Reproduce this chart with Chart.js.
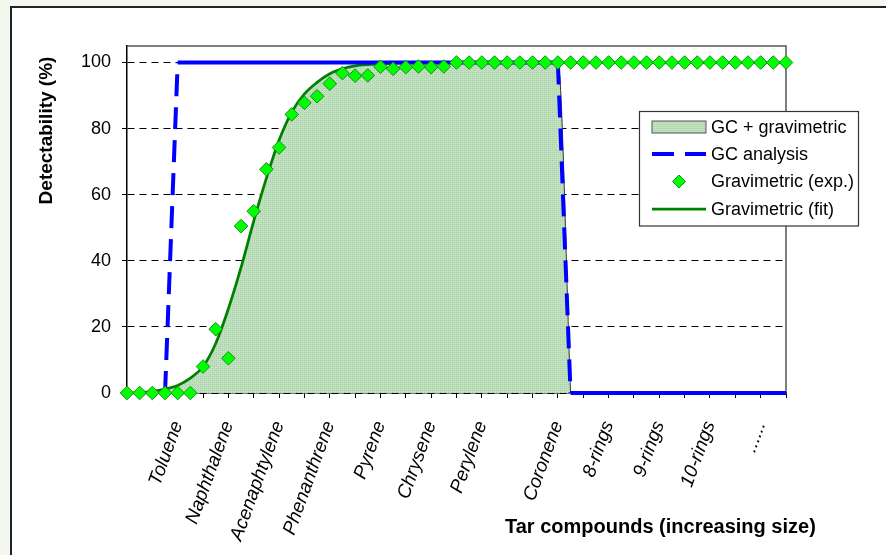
<!DOCTYPE html>
<html>
<head>
<meta charset="utf-8">
<title>Tar compound detectability</title>
<script src="https://cdn.jsdelivr.net/npm/chart.js@4.4.1/dist/chart.umd.min.js"></script>
<style>
  html, body { margin: 0; padding: 0; background: #f3f8ef; }
  canvas { display: block; }
</style>
</head>
<body>
<canvas id="detectChart" width="886" height="555"></canvas>
<script>
// x runs in half steps, 0 .. 26 -> 53 slots; a compound name sits on some of them
const compoundNames = ['Toluene', 'Naphthalene', 'Acenaphtylene', 'Phenanthrene', 'Pyrene', 'Chrysene',
    'Perylene', 'Coronene', '8-rings', '9-rings', '10-rings', '......'];
const compoundSlots = [4, 8, 12, 16, 20, 24, 28, 34, 38, 42, 46, 50];
const slotCount = 53;
const yTickValues = [0, 20, 40, 60, 80, 100];

const gcPlusGrav = [0, 0.1, 0.5, 1.2, 2.3, 4.5, 8, 15, 25.5, 38, 52, 65, 76.5, 85, 90.5, 94, 96.6, 98.1,
    99, 99.4, 99.6, 99.8, 99.9, 100, 100, 100, 100, 100, 100, 100, 100, 100, 100, 100, 100, 0];

const gcAnalysis = [null, null, null, 0,
    100, 100, 100, 100, 100, 100, 100, 100, 100, 100, 100, 100, 100, 100, 100, 100,
    100, 100, 100, 100, 100, 100, 100, 100, 100, 100, 100, 100, 100, 100, 100,
    0, 0, 0, 0, 0, 0, 0, 0, 0, 0, 0, 0, 0, 0, 0, 0, 0, 0];

const gravExp = [0, 0, 0, 0, 0, 0, 8, 19.3, 10.5, 50.5, 55, 67.7, 74.3, 84.3, 87.8, 89.8, 93.6, 96.8,
    96, 96.1, 98.7, 98.1, 98.6, 98.8, 98.6, 98.8,
    100, 100, 100, 100, 100, 100, 100, 100, 100, 100, 100, 100, 100, 100,
    100, 100, 100, 100, 100, 100, 100, 100, 100, 100, 100, 100, 100];

const gravFit = [0, 0.1, 0.5, 1.2, 2.3, 4.5, 8, 15, 25.5, 38, 52, 65, 76.5, 85, 90.5, 94, 96.6, 98.1,
    99, 99.4, 99.6, 99.8, 99.9,
    100, 100, 100, 100, 100, 100, 100, 100, 100, 100, 100, 100, 100, 100, 100,
    100, 100, 100, 100, 100, 100, 100, 100, 100, 100, 100, 100, 100, 100, 100];

const FONT = "'Liberation Sans', Arial, Helvetica, sans-serif";
const colors = {
    blue: '#0000ff',
    lime: '#00ff00',
    limeEdge: '#1a8a1a',
    darkGreen: '#008000',
    frameBg: '#f3f8ef'
};

function makeFillPattern() {
    const tile = document.createElement('canvas');
    tile.width = 4;
    tile.height = 4;
    const t = tile.getContext('2d');
    t.fillStyle = '#c0e0c0';
    t.fillRect(0, 0, 4, 4);
    t.fillStyle = '#a2cea2';
    t.fillRect(0, 0, 1, 1);
    t.fillRect(2, 2, 1, 1);
    t.fillStyle = '#b0d7b0';
    t.fillRect(2, 0, 1, 1);
    t.fillRect(0, 2, 1, 1);
    return t.createPattern(tile, 'repeat');
}

const fillPattern = makeFillPattern();

const slotLabels = new Array(slotCount).fill('');
compoundSlots.forEach((slot, i) => { slotLabels[slot] = compoundNames[i]; });

const frameAndTitles = {
    id: 'frameAndTitles',
    beforeDraw(chart) {
        const ctx = chart.ctx;
        ctx.save();
        ctx.fillStyle = colors.frameBg;
        ctx.fillRect(0, 0, chart.width, chart.height);
        ctx.fillStyle = '#ffffff';
        ctx.fillRect(11, 7, chart.width - 11, chart.height - 7);
        ctx.strokeStyle = '#222';
        ctx.lineWidth = 2;
        ctx.beginPath();
        ctx.moveTo(11, chart.height);
        ctx.lineTo(11, 7);
        ctx.lineTo(chart.width, 7);
        ctx.stroke();
        ctx.restore();
    },
    beforeDatasetsDraw(chart) {
        const {ctx, chartArea} = chart;
        ctx.save();
        ctx.strokeStyle = '#555';
        ctx.lineWidth = 1.5;
        ctx.beginPath();
        ctx.moveTo(chartArea.left, chartArea.top);
        ctx.lineTo(chartArea.right, chartArea.top);
        ctx.lineTo(chartArea.right, chartArea.bottom);
        ctx.stroke();
        ctx.restore();
    },
    afterDraw(chart) {
        const ctx = chart.ctx;
        ctx.save();
        ctx.fillStyle = '#000';
        ctx.font = 'bold 20px ' + FONT;
        ctx.textBaseline = 'alphabetic';
        ctx.textAlign = 'left';
        ctx.fillText('Tar compounds (increasing size)', 505, 533);

        ctx.font = 'bold 19px ' + FONT;
        ctx.translate(52, 130.5);
        ctx.rotate(-Math.PI / 2);
        ctx.textAlign = 'center';
        ctx.fillText('Detectability (%)', 0, 0);
        ctx.restore();

        drawLegend(chart);
    }
};

function drawLegend(chart) {
    const ctx = chart.ctx;
    const ds = chart.data.datasets;
    const box = {x: 639.5, y: 111.5, w: 219, h: 114.5};
    const symL = 652, symR = 706, textX = 711;
    const rows = [127, 154, 181.5, 209];

    ctx.save();
    ctx.fillStyle = '#fff';
    ctx.fillRect(box.x, box.y, box.w, box.h);
    ctx.strokeStyle = '#333';
    ctx.lineWidth = 1.2;
    ctx.strokeRect(box.x, box.y, box.w, box.h);

    // area sample
    ctx.fillStyle = fillPattern;
    ctx.fillRect(symL, rows[0] - 6, symR - symL, 12);
    ctx.strokeStyle = '#555';
    ctx.lineWidth = 1;
    ctx.strokeRect(symL, rows[0] - 6, symR - symL, 12);

    // GC analysis dashes
    ctx.strokeStyle = colors.blue;
    ctx.lineWidth = 4;
    ctx.setLineDash([22, 11]);
    ctx.beginPath();
    ctx.moveTo(symL, rows[1]);
    ctx.lineTo(symR, rows[1]);
    ctx.stroke();
    ctx.setLineDash([]);

    // diamond
    const cx = (symL + symR) / 2, r = 6.5;
    ctx.fillStyle = colors.lime;
    ctx.strokeStyle = colors.limeEdge;
    ctx.lineWidth = 1;
    ctx.beginPath();
    ctx.moveTo(cx, rows[2] - r);
    ctx.lineTo(cx + r, rows[2]);
    ctx.lineTo(cx, rows[2] + r);
    ctx.lineTo(cx - r, rows[2]);
    ctx.closePath();
    ctx.fill();
    ctx.stroke();

    // fit line
    ctx.strokeStyle = colors.darkGreen;
    ctx.lineWidth = 2.75;
    ctx.beginPath();
    ctx.moveTo(symL, rows[3]);
    ctx.lineTo(symR, rows[3]);
    ctx.stroke();

    ctx.fillStyle = '#000';
    ctx.font = '18px ' + FONT;
    ctx.textAlign = 'left';
    ctx.textBaseline = 'middle';
    ds.forEach((d, i) => ctx.fillText(d.label, textX, rows[i] + 1));
    ctx.restore();
}

new Chart(document.getElementById('detectChart').getContext('2d'), {
    type: 'line',
    data: {
        labels: slotLabels,
        datasets: [
            {
                label: 'GC + gravimetric',
                data: gcPlusGrav,
                backgroundColor: fillPattern,
                fill: 'origin',
                borderWidth: 1,
                borderColor: 'rgba(0,0,0,0)',
                segment: {
                    borderColor: ctx => ctx.p1.parsed.y < ctx.p0.parsed.y - 50 ? '#333' : 'rgba(0,0,0,0)'
                },
                cubicInterpolationMode: 'monotone',
                pointRadius: 0,
                clip: false,
                order: 4
            },
            {
                label: 'GC analysis',
                data: gcAnalysis,
                borderColor: colors.blue,
                borderWidth: 4,
                fill: false,
                segment: {
                    borderDash: ctx => ctx.p0.parsed.y !== ctx.p1.parsed.y ? [22, 11] : undefined
                },
                pointRadius: 0,
                clip: false,
                order: 2
            },
            {
                label: 'Gravimetric (exp.)',
                data: gravExp,
                showLine: false,
                pointStyle: 'rectRot',
                pointRadius: 6.8,
                pointBackgroundColor: colors.lime,
                pointBorderColor: colors.limeEdge,
                pointBorderWidth: 1,
                clip: false,
                order: 1
            },
            {
                label: 'Gravimetric (fit)',
                data: gravFit,
                borderColor: colors.darkGreen,
                borderWidth: 2.75,
                fill: false,
                cubicInterpolationMode: 'monotone',
                pointRadius: 0,
                clip: false,
                order: 3
            }
        ]
    },
    options: {
        responsive: false,
        animation: false,
        layout: {
            padding: {left: 81, top: 46, right: 100, bottom: 0}
        },
        plugins: {
            legend: {display: false},
            tooltip: {enabled: false}
        },
        scales: {
            x: {
                type: 'category',
                offset: false,
                afterFit(scale) { scale.height = 162; },
                grid: {
                    drawOnChartArea: false,
                    drawTicks: true,
                    tickLength: 5,
                    tickWidth: 1,
                    tickColor: ctx => ctx.index % 2 === 0 ? '#000' : 'rgba(0,0,0,0)'
                },
                border: {color: '#000', width: 1.5},
                ticks: {
                    autoSkip: false,
                    minRotation: 70,
                    maxRotation: 70,
                    padding: 20,
                    color: '#000',
                    font: {family: FONT, size: 19, style: 'italic'}
                }
            },
            y: {
                min: 0,
                max: 105,
                afterFit(scale) { scale.width = 46; },
                afterBuildTicks(scale) {
                    scale.ticks = yTickValues.map(v => ({value: v}));
                },
                grid: {
                    color: '#000',
                    lineWidth: 1,
                    tickLength: 5,
                    tickColor: '#000'
                },
                border: {color: '#000', width: 1.5, dash: [7, 5]},
                ticks: {
                    padding: 11,
                    color: '#000',
                    font: {family: FONT, size: 18}
                }
            }
        }
    },
    plugins: [frameAndTitles]
});
</script>
</body>
</html>
